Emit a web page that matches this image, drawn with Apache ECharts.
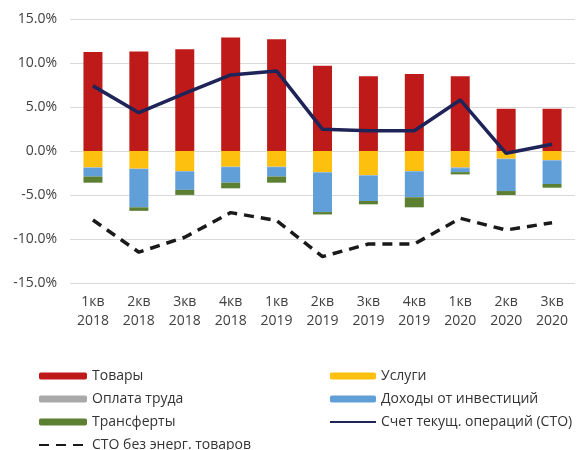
<!DOCTYPE html>
<html>
<head>
<meta charset="utf-8">
<script src="https://cdn.jsdelivr.net/npm/echarts@6/dist/echarts.min.js"></script>
<style>
  html, body { margin: 0; padding: 0; background: #fff; }
  #main { width: 581px; height: 450px; }
</style>
</head>
<body>
<div id="main"></div>
<script>
// квартальные данные, % ВВП
var quarters = ['1кв\n2018', '2кв\n2018', '3кв\n2018', '4кв\n2018', '1кв\n2019', '2кв\n2019',
                '3кв\n2019', '4кв\n2019', '1кв\n2020', '2кв\n2020', '3кв\n2020'];
var goods     = [11.25, 11.3, 11.55, 12.9, 12.7, 9.7, 8.5, 8.75, 8.5, 4.8, 4.8];
var services  = [-1.85, -2.0, -2.27, -1.78, -1.78, -2.39, -2.73, -2.27, -1.85, -0.87, -1.02];
var wages     = [-0.05, -0.05, -0.05, -0.05, -0.05, -0.05, -0.05, -0.05, -0.1, -0.05, -0.05];
var invIncome = [-1.0, -4.35, -2.1, -1.77, -1.07, -4.5, -2.9, -2.94, -0.45, -3.63, -2.68];
var transfers = [-0.7, -0.4, -0.57, -0.64, -0.7, -0.27, -0.38, -1.14, -0.26, -0.45, -0.42];
var ca        = [7.4, 4.35, 6.55, 8.64, 9.1, 2.46, 2.3, 2.3, 5.8, -0.26, 0.76];
var caExEnergy = [-7.84, -11.5, -9.8, -7.0, -7.9, -12.0, -10.57, -10.57, -7.65, -8.98, -8.15];

var myChart = echarts.init(document.getElementById('main'));

var barW = 19;
var font = 'Open Sans';
var noDot = { opacity: 0 };

var option = {
    animation: false,
    grid: { left: 70, right: 6, top: 19, bottom: 167 },
    legend: [
        {
            orient: 'vertical', left: 33, top: 364, height: 110,
            itemWidth: 48, itemHeight: 7, itemGap: 9,
            textStyle: { color: '#333', fontSize: 14, lineHeight: 14, fontFamily: font },
            data: ['Товары', 'Оплата труда', 'Трансферты',
                   { name: 'СТО без энерг. товаров', itemStyle: noDot }]
        },
        {
            orient: 'vertical', left: 324, top: 364, height: 110,
            itemWidth: 46, itemHeight: 7, itemGap: 9,
            textStyle: { color: '#333', fontSize: 14, lineHeight: 14, fontFamily: font },
            data: ['Услуги', 'Доходы от инвестиций',
                   { name: 'Счет текущ. операций (СТО)', itemStyle: noDot }]
        }
    ],
    xAxis: {
        type: 'category',
        data: quarters,
        axisLine: { show: false },
        axisTick: { show: false },
        axisLabel: { color: '#404040', fontSize: 14, lineHeight: 19, fontFamily: font, margin: 10 }
    },
    yAxis: {
        type: 'value',
        min: -15, max: 15, interval: 5,
        axisLine: { show: false },
        axisTick: { show: false },
        splitLine: { lineStyle: { color: '#d9d9d9', width: 1 } },
        axisLabel: {
            color: '#404040', fontSize: 14, fontFamily: font, margin: 13,
            formatter: function (v) { return v.toFixed(1) + '%'; }
        }
    },
    series: [
        { name: 'Товары', type: 'bar', stack: 'a', barWidth: barW, data: goods, itemStyle: { color: '#be1a1a' } },
        { name: 'Услуги', type: 'bar', stack: 'a', barWidth: barW, data: services, itemStyle: { color: '#fdc00f' } },
        { name: 'Оплата труда', type: 'bar', stack: 'a', barWidth: barW, data: wages, itemStyle: { color: '#a9a9a9' } },
        { name: 'Доходы от инвестиций', type: 'bar', stack: 'a', barWidth: barW, data: invIncome, itemStyle: { color: '#609fd8' } },
        { name: 'Трансферты', type: 'bar', stack: 'a', barWidth: barW, data: transfers, itemStyle: { color: '#5c7f32' } },
        {
            name: 'Счет текущ. операций (СТО)', type: 'line', data: ca,
            symbol: 'none', z: 5,
            lineStyle: { color: '#1f2458', width: 3.5 }, itemStyle: { color: '#1f2458' }
        },
        {
            name: 'СТО без энерг. товаров', type: 'line', data: caExEnergy,
            symbol: 'none', z: 5,
            lineStyle: { color: '#1a1a1a', width: 3.5, type: [10, 7] }, itemStyle: { color: '#1a1a1a' }
        }
    ]
};

myChart.setOption(option);
</script>
</body>
</html>
